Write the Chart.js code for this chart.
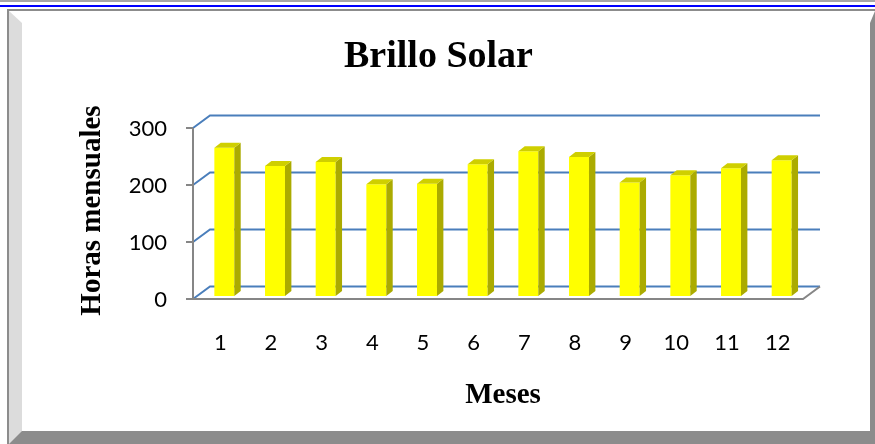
<!DOCTYPE html>
<html>
<head>
<meta charset="utf-8">
<script src="https://cdn.jsdelivr.net/npm/chart.js@4"></script>
<style>
  html, body { margin: 0; padding: 0; background: #fff; }
  body { width: 875px; height: 444px; position: relative; overflow: hidden; }
  #topline { position: absolute; left: 0; top: 0; width: 875px; height: 2px; background: #a6a6a6; }
  #blueline { position: absolute; left: 0; top: 5px; width: 875px; height: 2px; background: #0000ff; }
  #frame { position: absolute; left: 7px; top: 9px; width: 868px; height: 435px;
           border-top: 2px solid #8c8c8c; border-left: 2px solid #8c8c8c; box-sizing: border-box; }
  #bevel { position: absolute; left: 9px; top: 11px; width: 866px; height: 433px; box-sizing: border-box;
           border-left: 13px solid #dcdcdc; border-top: 12px solid #fff;
           border-right: 5px solid #8c8c8c; border-bottom: 13px solid #8c8c8c; }
  #chart { position: absolute; left: 0; top: 0; }
</style>
</head>
<body>
<div id="topline"></div>
<div id="blueline"></div>
<div id="frame"></div>
<div id="bevel"></div>
<canvas id="chart" width="875" height="444"></canvas>
<script>
// Brillo solar, horas por mes
const meses = ['1', '2', '3', '4', '5', '6', '7', '8', '9', '10', '11', '12']
const horas = [260, 228, 235, 196, 197, 231, 254, 244, 199, 212, 224, 238]
const yTicks = [0, 100, 200, 300]

// offsets of the front and back planes from the plane the bars sit in
const FRONT = [-4, 3]
const BACK = [13, -9.5]
const DEPTH = [6.4, -5]

const bar3d = {
  id: 'bar3d',
  beforeDatasetsDraw (chart) {
    const { ctx, chartArea: a, scales: { y } } = chart
    const wx = a.left - 2
    ctx.save()
    ctx.lineWidth = 2
    ctx.strokeStyle = '#4a7ebb'
    yTicks.forEach(v => {
      const py = y.getPixelForValue(v)
      ctx.beginPath()
      ctx.moveTo(wx + FRONT[0], py + FRONT[1])
      ctx.lineTo(wx + BACK[0], py + BACK[1])
      ctx.lineTo(a.right + BACK[0], py + BACK[1])
      ctx.stroke()
    })

    // floor edges and the front axis
    const p0 = y.getPixelForValue(0)
    const pTop = y.getPixelForValue(yTicks[yTicks.length - 1])
    ctx.strokeStyle = '#868686'
    ctx.beginPath()
    ctx.moveTo(wx + FRONT[0], p0 + FRONT[1])
    ctx.lineTo(a.right + FRONT[0], p0 + FRONT[1])
    ctx.lineTo(a.right + BACK[0], p0 + BACK[1])
    ctx.moveTo(wx + FRONT[0], pTop + FRONT[1])
    ctx.lineTo(wx + FRONT[0], p0 + FRONT[1])
    yTicks.forEach(v => {
      const py = y.getPixelForValue(v) + FRONT[1]
      ctx.moveTo(wx + FRONT[0] - 7, py)
      ctx.lineTo(wx + FRONT[0], py)
    })
    ctx.stroke()
    ctx.restore()
  },
  afterDatasetsDraw (chart) {
    const { ctx } = chart
    ctx.save()
    chart.getDatasetMeta(0).data.forEach(bar => {
      const { x, y, base, width } = bar.getProps(['x', 'y', 'base', 'width'], true)
      const l = x - width / 2
      const r = x + width / 2
      // side
      ctx.fillStyle = '#abab00'
      ctx.beginPath()
      ctx.moveTo(r, y)
      ctx.lineTo(r + DEPTH[0], y + DEPTH[1])
      ctx.lineTo(r + DEPTH[0], base + DEPTH[1])
      ctx.lineTo(r, base)
      ctx.closePath()
      ctx.fill()
      // top
      ctx.fillStyle = '#cfcf00'
      ctx.beginPath()
      ctx.moveTo(l, y)
      ctx.lineTo(l + DEPTH[0], y + DEPTH[1])
      ctx.lineTo(r + DEPTH[0], y + DEPTH[1])
      ctx.lineTo(r, y)
      ctx.closePath()
      ctx.fill()
    })
    ctx.restore()
  }
}

const tickFont = { family: 'Lato', size: 22 }
const titleFont = { family: 'Liberation Serif', weight: 'bold', size: 29 }

new Chart(document.getElementById('chart'), {
  type: 'bar',
  data: {
    labels: meses,
    datasets: [{
      data: horas,
      backgroundColor: '#ffff00',
      borderWidth: 0,
      categoryPercentage: 1,
      barPercentage: 0.394
    }]
  },
  options: {
    responsive: false,
    animation: false,
    layout: { padding: { left: 70, right: 68, top: 20, bottom: 30 } },
    plugins: {
      legend: { display: false },
      tooltip: { enabled: false },
      title: {
        display: true,
        text: 'Brillo Solar',
        color: '#000',
        font: { family: 'Liberation Serif', weight: 'bold', size: 38, lineHeight: 1.2 },
        padding: { top: 14, bottom: 45.4 }
      }
    },
    scales: {
      x: {
        offset: true,
        grid: { display: false, drawTicks: false },
        border: { display: false },
        ticks: { color: '#000', font: tickFont, padding: 34, labelOffset: -4, maxRotation: 0 },
        title: { display: true, text: 'Meses', color: '#000', font: titleFont, padding: { top: 0, bottom: 1 } },
        afterFit (s) { s.height = 118 }
      },
      y: {
        min: 0,
        max: 300,
        afterBuildTicks (s) { s.ticks = yTicks.map(v => ({ value: v })) },
        grid: { display: false, drawTicks: false },
        border: { display: false },
        ticks: { color: '#000', font: tickFont, padding: 32, labelOffset: 4 },
        title: { display: true, text: 'Horas mensuales', color: '#000', font: titleFont, padding: { top: 5, bottom: 0 } },
        afterFit (s) { s.width = 129 }
      }
    }
  },
  plugins: [bar3d]
})
</script>
</body>
</html>
